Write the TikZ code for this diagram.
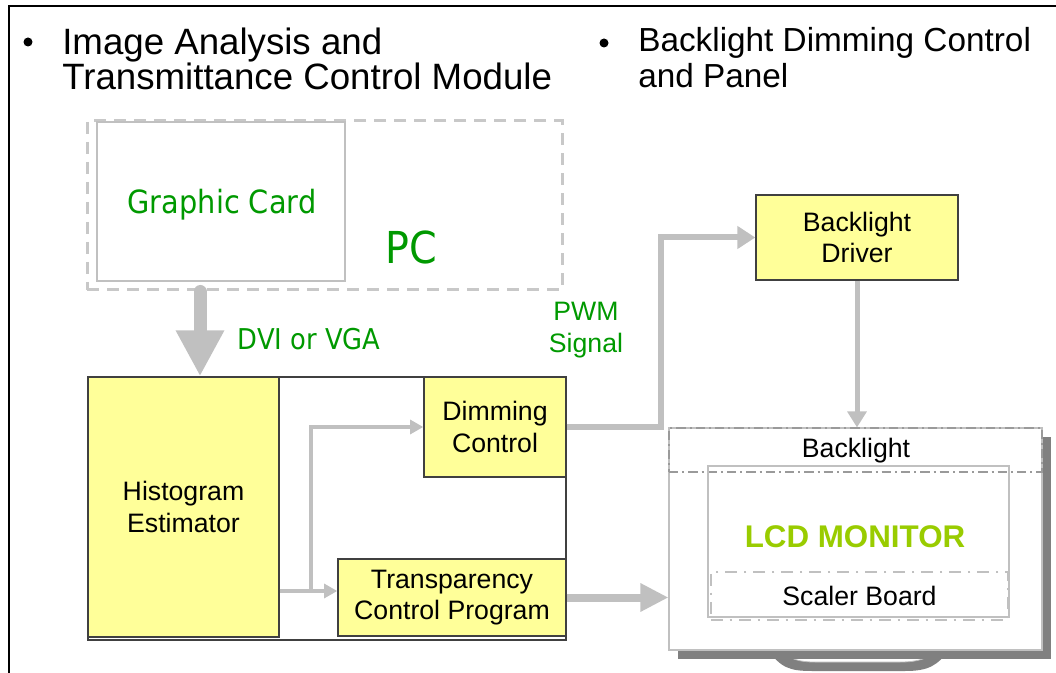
\documentclass[tikz,border=0pt]{standalone}
\usepackage{fontspec}
\setmainfont{Liberation Sans}
\newfontfamily\tahoma[FakeStretch=0.9]{DejaVu Sans}
\usetikzlibrary{arrows.meta,positioning,calc}
\definecolor{boxyellow}{HTML}{FFFF99}
\definecolor{arrowgray}{HTML}{C0C0C0}
\definecolor{dashgray}{HTML}{C8C8C8}
\definecolor{labelgreen}{HTML}{009900}
\definecolor{lcdgreen}{HTML}{99CC00}
\definecolor{shadowgray}{HTML}{808080}

\tikzset{
  boxsize/.style 2 args={minimum width=#1*0.75pt,minimum height=#2*0.75pt,inner sep=0pt},
  block/.style={draw=black!75,line width=1pt,fill=boxyellow,align=center},
  greenlabel/.style={text=labelgreen,align=center,inner sep=0pt},
  title/.style={align=left,inner sep=0pt,anchor=north west},
  flow/.style={draw=arrowgray,line width=3pt,-{Triangle[length=10pt,width=10.5pt]}},
  dashdot/.style={dash pattern=on 7pt off 3pt on 1.5pt off 3pt}
}

\begin{document}
\begin{tikzpicture}[x=0.75pt,y=-0.75pt,font=\fontsize{20}{23.5}\selectfont]
\useasboundingbox (0,0) rectangle (1056,673);
\draw[line width=2pt] (9,673) -- (9,6) -- (1056,6);

% headings
\fill (28,42) circle (4.5);
\fill (604,43) circle (4.5);
\node[title,font=\fontsize{27.5}{26}\selectfont] (head1) at (62,28)
  {Image Analysis and\\Transmittance Control Module};
\node[title,font=\fontsize{25}{27}\selectfont] (head2) at (638,27)
  {Backlight Dimming Control\\and Panel};

% PC side
\node[draw=dashgray,line width=2.25pt,dash pattern=on 9pt off 6pt,boxsize={475}{169}] (pc) at (324.5,205.5) {};
\node[draw=arrowgray,line width=0.8pt,boxsize={248}{159}] (gcard) at (221,201.5) {};
\node[greenlabel,font=\tahoma\fontsize{24}{28}\selectfont] (gcardtext) at (222,205) {Graphic Card};
\node[greenlabel,font=\tahoma\fontsize{33}{36}\selectfont] (pclabel) at (411,247) {PC};
\node[greenlabel,font=\tahoma\fontsize{21.5}{24}\selectfont] (dvi) at (309,339) {DVI or VGA};
\node[greenlabel] (pwm) at (586,330) {PWM\\Signal};

% processing blocks
\node[draw=black!75,line width=0.8pt,boxsize={478}{263}] (algo) at (327,508.5) {};
\node[block,boxsize={191}{260}] (hist) at (183.5,507) {Histogram\\Estimator};
\node[block,boxsize={142}{100}] (dim) at (495,427) {Dimming\\Control};
\node[block,boxsize={228}{77}] (trans) at (452,597.5) {Transparency\\Control Program};
\node[block,boxsize={202}{85}] (drv) at (857,237.5) {Backlight\\Driver};

% monitor
\fill[shadowgray] (767,648) .. controls (780,668) and (790,671) .. (812,671) -- (905,671)
  .. controls (928,671) and (938,666) .. (950,648) -- cycle;
\fill[white,draw=arrowgray,line width=0.6pt] (778,648) .. controls (790,660) and (800,662) .. (815,662)
  -- (900,662) .. controls (918,662) and (928,659) .. (940,648) -- cycle;
\fill[shadowgray] (678,437) rectangle (1051,659);
\node[draw=arrowgray,fill=white,line width=0.8pt,boxsize={373}{222}] (mon) at (855.5,539) {};
\node[draw=arrowgray!80!black,line width=0.9pt,dashdot,boxsize={373}{44}] (blight) at (855.5,450) {};
\node (blabel) at (856,451) {Backlight};
\node[draw=arrowgray,line width=0.8pt,boxsize={301}{151}] (screen) at (858.5,541.5) {};
\node[text=lcdgreen,font=\fontsize{23.5}{26}\selectfont\bfseries] (lcd) at (855,537) {LCD MONITOR};
\node[draw=arrowgray,line width=2pt,dash pattern=on 9pt off 5pt on 2pt off 5pt,boxsize={297}{48}] (scaler) at (859.5,596) {Scaler Board};

% connections
\draw[arrowgray,line width=9.75pt,line cap=round,-{Triangle[length=34.5pt,width=34pt]}]
  (200,0 |- pc.south) -- (200,0 |- hist.north);
\coordinate (split) at (311,591);
\draw[flow] (hist.south east |- split) -- (trans.west |- split);
\draw[flow] (split) |- (dim.west);
\draw[flow,line width=4.5pt,-{Triangle[length=13.5pt,width=16.5pt]}] (dim.east) -- ++(94,0) |- (drv.west);
\draw[flow,line width=3.75pt,-{Triangle[length=12pt,width=14pt]}] (drv.south) -- (drv.south |- mon.north);
\draw[flow,line width=6pt,-{Triangle[length=21pt,width=20pt]}] (trans.east) -- (trans.east -| mon.west);
\end{tikzpicture}
\end{document}
